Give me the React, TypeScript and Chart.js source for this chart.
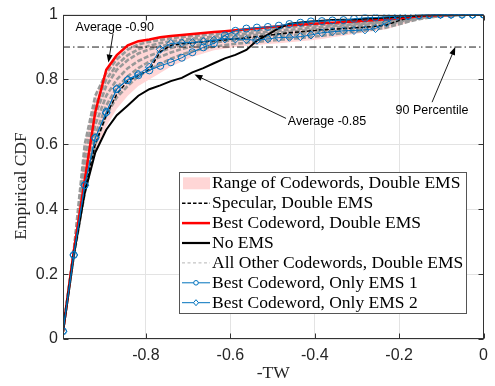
import React, { useEffect, useRef } from 'react';
import { Chart, registerables } from 'chart.js';
Chart.register(...registerables);

// -TW grid (x values shared by all curves)
const xs = [-0.9965, -0.971, -0.945, -0.92, -0.894, -0.869, -0.843, -0.818, -0.792, -0.766,
  -0.741, -0.715, -0.69, -0.664, -0.639, -0.613, -0.588, -0.562, -0.537, -0.511,
  -0.485, -0.46, -0.434, -0.409, -0.383, -0.358, -0.332, -0.307, -0.281, -0.256,
  -0.23, -0.204, -0.179, -0.153, -0.128, -0.102, -0.077, -0.051, -0.026, 0];

const xTickValues = [-0.8, -0.6, -0.4, -0.2, 0];
const yTickValues = [0, 0.2, 0.4, 0.6, 0.8, 1];

const rangeHigh = [0.024, 0.272, 0.6, 0.75, 0.83, 0.875, 0.905, 0.918, 0.923, 0.93, 0.934, 0.937, 0.94, 0.943, 0.946, 0.949, 0.952, 0.955, 0.958, 0.961, 0.964, 0.967, 0.969, 0.971, 0.973, 0.975, 0.977, 0.979, 0.981, 0.983, 0.986, 0.988, 0.991, 0.995, 0.997, 0.998, 0.999, 1, 1, 1];
const rangeLow = [0.024, 0.252, 0.44, 0.57, 0.655, 0.71, 0.75, 0.78, 0.8, 0.82, 0.84, 0.855, 0.87, 0.88, 0.89, 0.895, 0.9, 0.903, 0.906, 0.909, 0.912, 0.915, 0.918, 0.921, 0.925, 0.93, 0.935, 0.94, 0.945, 0.95, 0.955, 0.965, 0.975, 0.985, 0.99, 0.995, 0.998, 0.999, 1, 1];

const specular = [0.024, 0.259, 0.46, 0.6, 0.69, 0.755, 0.795, 0.812, 0.83, 0.885, 0.905, 0.91, 0.913, 0.916, 0.919, 0.922, 0.925, 0.928, 0.932, 0.936, 0.94, 0.944, 0.947, 0.95, 0.953, 0.955, 0.957, 0.959, 0.961, 0.964, 0.968, 0.98, 0.99, 0.995, 0.998, 0.999, 1, 1, 1, 1];
const bestDouble = [0.024, 0.27, 0.49, 0.7, 0.83, 0.875, 0.905, 0.918, 0.923, 0.93, 0.934, 0.937, 0.94, 0.943, 0.946, 0.949, 0.952, 0.955, 0.958, 0.961, 0.964, 0.967, 0.969, 0.971, 0.973, 0.975, 0.977, 0.979, 0.981, 0.983, 0.986, 0.988, 0.991, 0.995, 0.997, 0.998, 0.999, 1, 1, 1];
const noEms = [0.024, 0.259, 0.45, 0.575, 0.645, 0.69, 0.72, 0.75, 0.77, 0.782, 0.795, 0.805, 0.822, 0.835, 0.85, 0.865, 0.876, 0.891, 0.92, 0.938, 0.958, 0.972, 0.976, 0.979, 0.981, 0.983, 0.984, 0.985, 0.987, 0.989, 0.991, 0.993, 0.995, 0.997, 0.998, 0.999, 1, 1, 1, 1];

const other1 = [0.024, 0.272, 0.6, 0.75, 0.82, 0.862, 0.892, 0.908, 0.916, 0.922, 0.927, 0.931, 0.934, 0.937, 0.94, 0.943, 0.946, 0.949, 0.952, 0.955, 0.958, 0.961, 0.964, 0.966, 0.968, 0.97, 0.972, 0.974, 0.976, 0.978, 0.981, 0.984, 0.988, 0.993, 0.996, 0.998, 0.999, 1, 1, 1];
const other2 = [0.024, 0.268, 0.56, 0.72, 0.8, 0.845, 0.875, 0.893, 0.904, 0.912, 0.918, 0.922, 0.926, 0.929, 0.932, 0.935, 0.938, 0.941, 0.944, 0.947, 0.95, 0.953, 0.956, 0.959, 0.962, 0.965, 0.967, 0.97, 0.972, 0.975, 0.978, 0.982, 0.986, 0.992, 0.995, 0.997, 0.999, 1, 1, 1];
const other3 = [0.024, 0.265, 0.52, 0.69, 0.78, 0.83, 0.86, 0.88, 0.893, 0.902, 0.909, 0.915, 0.92, 0.923, 0.926, 0.929, 0.932, 0.935, 0.938, 0.941, 0.944, 0.947, 0.95, 0.953, 0.956, 0.959, 0.962, 0.965, 0.968, 0.971, 0.975, 0.979, 0.984, 0.99, 0.994, 0.997, 0.998, 1, 1, 1];
const other4 = [0.024, 0.262, 0.49, 0.66, 0.75, 0.8, 0.835, 0.857, 0.873, 0.886, 0.897, 0.906, 0.912, 0.917, 0.921, 0.924, 0.927, 0.93, 0.933, 0.936, 0.939, 0.942, 0.945, 0.948, 0.951, 0.954, 0.957, 0.96, 0.963, 0.967, 0.971, 0.977, 0.983, 0.989, 0.994, 0.997, 0.998, 1, 1, 1];
const other5 = [0.024, 0.258, 0.47, 0.63, 0.72, 0.775, 0.81, 0.835, 0.855, 0.87, 0.883, 0.894, 0.902, 0.909, 0.914, 0.918, 0.921, 0.924, 0.927, 0.93, 0.933, 0.936, 0.939, 0.942, 0.945, 0.948, 0.951, 0.955, 0.958, 0.962, 0.967, 0.974, 0.981, 0.988, 0.993, 0.996, 0.998, 0.999, 1, 1];
const other6 = [0.024, 0.255, 0.45, 0.6, 0.69, 0.745, 0.78, 0.81, 0.83, 0.848, 0.864, 0.877, 0.887, 0.895, 0.901, 0.906, 0.91, 0.913, 0.916, 0.919, 0.922, 0.925, 0.928, 0.931, 0.935, 0.939, 0.943, 0.947, 0.951, 0.955, 0.96, 0.969, 0.978, 0.986, 0.991, 0.996, 0.998, 0.999, 1, 1];

const onlyEms1 = [0.024, 0.259, 0.474, 0.62, 0.7, 0.77, 0.798, 0.813, 0.828, 0.842, 0.853, 0.867, 0.884, 0.899, 0.911, 0.936, 0.95, 0.957, 0.96, 0.962, 0.966, 0.971, 0.975, 0.979, 0.98, 0.982, 0.983, 0.987, 0.99, 0.991, 0.993, 0.996, 0.996, 0.998, 0.999, 1, 1, 1, 1, 1];
const onlyEms2 = [0.024, 0.259, 0.474, 0.62, 0.697, 0.772, 0.8, 0.817, 0.838, 0.893, 0.911, 0.913, 0.914, 0.917, 0.921, 0.925, 0.925, 0.923, 0.921, 0.925, 0.929, 0.93, 0.932, 0.937, 0.944, 0.947, 0.95, 0.951, 0.953, 0.957, 0.975, 0.995, 0.996, 0.998, 0.999, 1, 1, 1, 1, 1];

const percentileLevel = 0.9;

const legendLabels = [
  'Range of Codewords, Double EMS',
  'Specular, Double EMS',
  'Best Codeword, Double EMS',
  'No EMS',
  'All Other Codewords, Double EMS',
  'Best Codeword, Only EMS 1',
  'Best Codeword, Only EMS 2',
];

// annotations in data coordinates
const annotations = [
  { text: 'Average -0.90', tx: -0.874, ty: 0.961, ax1: -0.878, ay1: 0.94, ax2: -0.889, ay2: 0.852 },
  { text: 'Average -0.85', tx: -0.371, ty: 0.671, ax1: -0.468, ay1: 0.68, ax2: -0.685, ay2: 0.815 },
  { text: '90 Percentile', tx: -0.122, ty: 0.705, ax1: -0.122, ay1: 0.73, ax2: -0.067, ay2: 0.9 },
];

const BLUE = '#0072BD';
const PINK = '#ffd6d6';
const GRAY = '#999999';
const SERIF = '"Liberation Serif", "Times New Roman", serif';
const SANS = '"Liberation Sans", Arial, sans-serif';

function drawArrow(ctx: CanvasRenderingContext2D, x1: number, y1: number, x2: number, y2: number) {
  const ang = Math.atan2(y2 - y1, x2 - x1);
  const L = 8, W = 3;
  ctx.beginPath();
  ctx.moveTo(x1, y1);
  ctx.lineTo(x2 - Math.cos(ang) * L * 0.8, y2 - Math.sin(ang) * L * 0.8);
  ctx.stroke();
  ctx.beginPath();
  ctx.moveTo(x2, y2);
  ctx.lineTo(x2 - Math.cos(ang) * L - Math.sin(ang) * W, y2 - Math.sin(ang) * L + Math.cos(ang) * W);
  ctx.lineTo(x2 - Math.cos(ang) * L + Math.sin(ang) * W, y2 - Math.sin(ang) * L - Math.cos(ang) * W);
  ctx.closePath();
  ctx.fill();
}

const overlay = {
  id: 'overlay',
  afterDraw(chart: any) {
    const { ctx, chartArea: a, scales } = chart;
    const sx = scales.x, sy = scales.y;
    ctx.save();
    // axes box
    ctx.strokeStyle = '#333333';
    ctx.lineWidth = 1;
    const L = Math.round(a.left) + 0.5, R = Math.round(a.right) - 0.5;
    const T = Math.round(a.top) + 0.5, B = Math.round(a.bottom) - 0.5;
    ctx.strokeRect(L, T, R - L, B - T);
    // inward ticks
    ctx.beginPath();
    xTickValues.forEach((v) => {
      const px = Math.round(sx.getPixelForValue(v)) + 0.5;
      ctx.moveTo(px, B); ctx.lineTo(px, B - 5);
      ctx.moveTo(px, T); ctx.lineTo(px, T + 5);
    });
    yTickValues.forEach((v) => {
      const py = Math.round(sy.getPixelForValue(v)) + 0.5;
      ctx.moveTo(L, py); ctx.lineTo(L + 5, py);
      ctx.moveTo(R, py); ctx.lineTo(R - 5, py);
    });
    ctx.stroke();

    // axis titles
    ctx.fillStyle = '#262626';
    ctx.font = `17.5px ${SERIF}`;
    ctx.textAlign = 'center';
    ctx.textBaseline = 'middle';
    ctx.fillText('-TW', (a.left + a.right) / 2, 373);
    ctx.save();
    ctx.translate(21, 186);
    ctx.rotate(-Math.PI / 2);
    ctx.fillText('Empirical CDF', 0, 0);
    ctx.restore();

    // annotations
    ctx.font = `12.5px ${SANS}`;
    ctx.fillStyle = '#000';
    ctx.strokeStyle = '#000';
    ctx.lineWidth = 0.9;
    annotations.forEach((an) => {
      ctx.fillText(an.text, sx.getPixelForValue(an.tx), sy.getPixelForValue(an.ty));
      drawArrow(ctx, sx.getPixelForValue(an.ax1), sy.getPixelForValue(an.ay1),
        sx.getPixelForValue(an.ax2), sy.getPixelForValue(an.ay2));
    });

    // legend
    const lx = 179.5, ly = 172.5, lw = 287, lh = 141;
    ctx.fillStyle = '#fff';
    ctx.fillRect(lx, ly, lw, lh);
    ctx.strokeStyle = '#555';
    ctx.lineWidth = 1;
    ctx.strokeRect(lx, ly, lw, lh);
    const rowH = 19.9;
    const x0 = 182, x1 = 210, xm = 196;
    ctx.font = `17.5px ${SERIF}`;
    ctx.textAlign = 'left';
    ctx.textBaseline = 'middle';
    legendLabels.forEach((lab, i) => {
      const cy = 183.3 + i * rowH;
      ctx.save();
      if (i === 0) {
        ctx.fillStyle = PINK;
        ctx.fillRect(x0 + 1, cy - 6, x1 - x0 - 1, 12);
      } else {
        ctx.beginPath();
        ctx.moveTo(x0, cy); ctx.lineTo(x1, cy);
        if (i === 1) { ctx.strokeStyle = '#000'; ctx.lineWidth = 1.5; ctx.setLineDash([3.5, 2]); }
        if (i === 2) { ctx.strokeStyle = '#ff0000'; ctx.lineWidth = 2.5; }
        if (i === 3) { ctx.strokeStyle = '#000'; ctx.lineWidth = 2.2; }
        if (i === 4) { ctx.strokeStyle = '#b5b5b5'; ctx.lineWidth = 1; ctx.setLineDash([3, 2.5]); }
        if (i >= 5) { ctx.strokeStyle = BLUE; ctx.lineWidth = 1; }
        ctx.stroke();
        ctx.setLineDash([]);
        if (i === 5) {
          ctx.beginPath(); ctx.arc(xm, cy, 2.3, 0, Math.PI * 2);
          ctx.fillStyle = '#fff'; ctx.fill(); ctx.stroke();
        }
        if (i === 6) {
          ctx.beginPath();
          ctx.moveTo(xm, cy - 3); ctx.lineTo(xm + 2.5, cy); ctx.lineTo(xm, cy + 3); ctx.lineTo(xm - 2.5, cy);
          ctx.closePath(); ctx.fillStyle = '#fff'; ctx.fill(); ctx.stroke();
        }
      }
      ctx.restore();
      ctx.fillStyle = '#000';
      ctx.fillText(lab, 212, cy + 0.5);
    });
    ctx.restore();
  },
};

export default function App() {
  const ref = useRef<HTMLCanvasElement>(null);
  useEffect(() => {
    const canvas = ref.current!;
    const pts = (arr: number[]) => xs.map((x, i) => ({ x, y: arr[i] }));
    const plain = { pointRadius: 0, fill: false };
    const grayLine = (arr: number[], n: number) => ({
      label: 'All Other Codewords ' + n, data: pts(arr), borderColor: GRAY, borderWidth: 2.6,
      borderDash: [5, 2], ...plain,
    });
    const chart = new Chart(canvas, {
      type: 'line',
      data: {
        datasets: [
          { label: legendLabels[6], data: pts(onlyEms2), borderColor: BLUE, borderWidth: 1, pointStyle: 'rectRot', pointRadius: 4, pointBorderWidth: 1, pointBorderColor: BLUE, pointBackgroundColor: 'rgba(255,255,255,0)', fill: false },
          { label: legendLabels[5], data: pts(onlyEms1), borderColor: BLUE, borderWidth: 1, pointStyle: 'circle', pointRadius: 3.5, pointBorderWidth: 1, pointBorderColor: BLUE, pointBackgroundColor: 'rgba(255,255,255,0)', fill: false },
          { label: legendLabels[3], data: pts(noEms), borderColor: '#000', borderWidth: 2, ...plain },
          { label: legendLabels[2], data: pts(bestDouble), borderColor: '#ff0000', borderWidth: 2.5, ...plain },
          { label: legendLabels[1], data: pts(specular), borderColor: '#000', borderWidth: 1.5, borderDash: [4, 2], ...plain },
          { label: '90 Percentile', data: [{ x: xs[0], y: percentileLevel }, { x: xs[xs.length - 1], y: percentileLevel }], borderColor: '#000', borderWidth: 0.9, borderDash: [7, 3, 1.5, 3], ...plain },
          grayLine(other1, 1), grayLine(other2, 2), grayLine(other3, 3),
          grayLine(other4, 4), grayLine(other5, 5), grayLine(other6, 6),
          { label: 'Range low', data: pts(rangeLow), borderColor: 'rgba(0,0,0,0)', borderWidth: 1, pointRadius: 0, backgroundColor: PINK, fill: '+1' },
          { label: legendLabels[0], data: pts(rangeHigh), borderColor: 'rgba(0,0,0,0)', borderWidth: 1, pointRadius: 0, fill: false },
        ],
      },
      options: {
        responsive: false,
        animation: false,
        devicePixelRatio: 1,
        elements: { line: { tension: 0 } },
        layout: { padding: { top: 7, right: 10, left: 0, bottom: 0 } },
        plugins: { legend: { display: false }, tooltip: { enabled: false } },
        scales: {
          x: {
            type: 'linear', min: xs[0], max: 0,
            afterBuildTicks: (s: any) => { s.ticks = xTickValues.map((v) => ({ value: v })); },
            afterFit: (s: any) => { s.height = 47; },
            ticks: { callback: (v: any) => String(v), font: { family: SANS, size: 16 }, color: '#262626', padding: 7, maxRotation: 0 },
            grid: { color: '#e3e3e3', drawTicks: false },
            border: { display: false },
          },
          y: {
            type: 'linear', min: 0, max: 1,
            afterBuildTicks: (s: any) => { s.ticks = yTickValues.map((v) => ({ value: v })); },
            afterFit: (s: any) => { s.width = 63; },
            ticks: { callback: (v: any) => String(v), font: { family: SANS, size: 16 }, color: '#262626', padding: 5 },
            grid: { color: '#e3e3e3', drawTicks: false },
            border: { display: false },
          },
        },
      },
      plugins: [overlay],
    } as any);
    return () => chart.destroy();
  }, []);
  return (
    <div style={{ position: 'fixed', left: 0, top: 0, width: 495, height: 386, background: '#fff' }}>
      <canvas ref={ref} width={495} height={386} style={{ display: 'block', width: 495, height: 386 }} />
    </div>
  );
}
